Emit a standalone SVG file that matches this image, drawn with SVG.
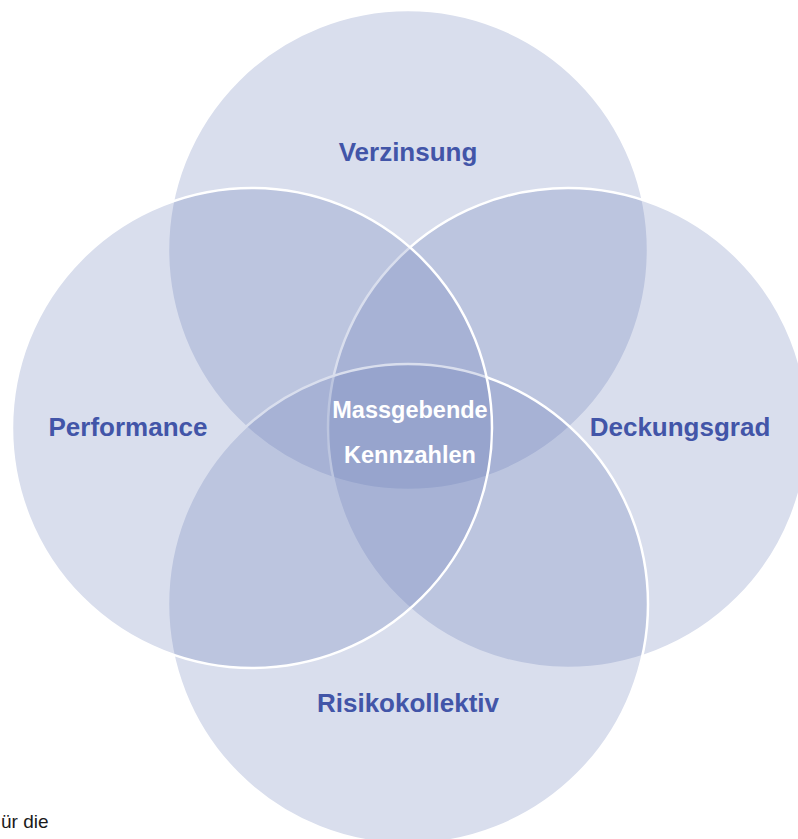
<svg xmlns="http://www.w3.org/2000/svg" width="798" height="839" viewBox="0 0 798 839">
  <style>
    .ring { fill: #677bb7; fill-opacity: 0.25; stroke: #ffffff; stroke-width: 2.5; }
    .label { font-family: "Liberation Sans", Arial, sans-serif; font-weight: bold; font-size: 26px; fill: #4255a8; text-anchor: middle; }
    .core { font-family: "Liberation Sans", Arial, sans-serif; font-weight: bold; font-size: 23.5px; fill: #ffffff; text-anchor: middle; }
    .note { font-family: "Liberation Sans", Arial, sans-serif; font-size: 19px; fill: #1a1a1a; }
  </style>
  <rect width="798" height="839" fill="#ffffff"/>

  <!-- four overlapping circles -->
  <g id="verzinsung">
    <circle class="ring" cx="408" cy="250" r="240"/>
    <text class="label" x="408" y="161">Verzinsung</text>
  </g>
  <g id="deckungsgrad">
    <circle class="ring" cx="568" cy="428" r="240"/>
    <text class="label" x="680" y="436">Deckungsgrad</text>
  </g>
  <g id="risikokollektiv">
    <circle class="ring" cx="408" cy="604" r="240"/>
    <text class="label" x="408" y="712">Risikokollektiv</text>
  </g>
  <g id="performance">
    <circle class="ring" cx="252" cy="428" r="240"/>
    <text class="label" x="128" y="436">Performance</text>
  </g>

  <g id="kennzahlen">
    <text class="core" x="410" y="418">Massgebende</text>
    <text class="core" x="410" y="463">Kennzahlen</text>
  </g>

  <g id="connectors"></g>

  <text class="note" x="1" y="828">ür die</text>
</svg>
